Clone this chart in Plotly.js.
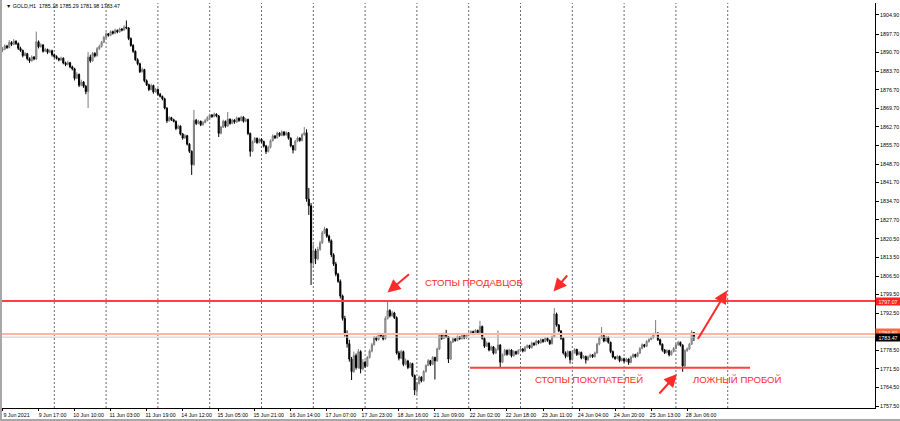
<!DOCTYPE html>
<html><head><meta charset="utf-8">
<script src="https://cdn.plot.ly/plotly-3.0.1.min.js"></script>
<style>html,body{margin:0;padding:0;background:#fff;}#chart{width:900px;height:421px;}</style>
</head><body><div id="chart"></div>
<script>
// Trading days shown (GOLD, H1, 23 bars a day from 01:00)
const days = ['9 Jun','10 Jun','11 Jun','14 Jun','15 Jun','16 Jun','17 Jun','18 Jun','21 Jun','22 Jun','23 Jun','24 Jun','25 Jun','28 Jun'];

const open = [
1891.5,1892.0,1893.2,1892.6,1894.5,1893.8,1895.0,1894.1,1892.3,1891.5,1889.6,1890.3,1888.4,1887.6,1889.0,1888.3,1894.8,1892.9,1893.6,1891.2,1891.9,1890.8,1891.4,
1889.9,1889.2,1888.5,1887.9,1888.6,1886.8,1886.2,1886.9,1885.3,1884.6,1881.0,1882.5,1878.4,1879.6,1878.0,1876.0,1889.0,1887.6,1890.4,1889.5,1892.2,1893.0,1894.6,
1896.4,1897.8,1897.2,1898.6,1898.0,1899.1,1898.5,1899.6,1899.2,1900.3,1900.0,1896.0,1893.4,1891.2,1888.0,1886.5,1883.5,1884.3,1880.1,1878.6,1876.8,1878.3,1875.9,
1876.8,1875.0,1874.2,1873.3,1869.8,1865.0,1866.2,1865.4,1864.8,1862.1,1863.0,1860.0,1858.5,1859.4,1856.2,1853.5,1848.5,1865.2,1864.0,1864.8,1863.5,1864.4,1865.1,
1866.2,1867.2,1866.6,1867.5,1866.8,1860.3,1862.6,1864.8,1863.0,1865.6,1864.0,1865.3,1864.5,1866.0,1865.1,1866.4,1864.8,1865.5,1860.2,1853.5,1857.0,1858.4,1856.8,
1858.0,1857.2,1855.5,1853.4,1855.0,1857.5,1859.3,1858.6,1860.4,1859.5,1860.8,1859.7,1860.5,1858.4,1855.6,1854.0,1857.3,1858.5,1857.6,1859.8,1860.5,1835.5,1833.0,
1811.5,1816.0,1813.0,1816.5,1819.0,1822.8,1824.2,1821.5,1819.8,1814.5,1811.0,1807.2,1804.5,1799.0,1790.5,1784.8,1781.0,1775.2,1770.5,1776.5,1772.0,1778.0,1771.5,
1774.0,1772.5,1775.8,1778.2,1780.6,1783.3,1782.5,1784.6,1783.8,1782.8,1790.5,1793.5,1791.5,1792.6,1790.8,1777.5,1775.5,1778.0,1773.2,1774.5,1772.0,1773.5,1769.0,
1763.5,1766.0,1768.4,1767.0,1770.5,1772.8,1774.6,1773.2,1775.8,1774.5,1779.0,1784.2,1783.0,1784.5,1783.6,1775.2,1781.6,1782.8,1782.2,1783.6,1782.9,1784.0,1783.2,
1784.3,1784.8,1785.6,1784.7,1786.0,1785.2,1787.5,1783.0,1780.0,1781.2,1778.6,1779.8,1777.4,1778.8,1780.5,1774.0,1776.8,1778.5,1777.0,1778.6,1776.4,1778.0,1777.2,
1778.4,1779.0,1778.2,1779.6,1780.3,1779.5,1781.2,1780.6,1782.0,1781.3,1782.5,1781.8,1783.0,1782.2,1781.0,1783.6,1792.2,1788.0,1785.8,1783.0,1777.5,1776.2,1778.0,
1775.0,1777.6,1778.8,1776.9,1777.7,1775.6,1776.2,1774.9,1776.0,1776.8,1776.1,1777.5,1780.8,1783.2,1784.0,1782.0,1783.4,1781.5,1778.0,1776.0,1775.4,1776.2,1774.6,
1775.3,1774.4,1775.2,1773.9,1776.0,1776.9,1776.2,1777.4,1779.2,1780.6,1780.0,1781.8,1782.6,1783.2,1784.6,1785.0,1782.5,1780.8,1778.6,1777.6,1778.4,1776.8,1778.0,
1779.2,1780.6,1781.5,1780.4,1772.6,1778.4,1779.0,1780.8,1785.18];

const high = [
1892.8,1893.8,1893.6,1895.4,1895.0,1895.8,1895.3,1894.5,1892.9,1891.9,1891.0,1890.6,1888.9,1889.6,1889.4,1898.6,1895.3,1894.2,1893.9,1892.5,1892.2,1891.9,1891.8,
1890.3,1889.7,1888.8,1889.2,1888.9,1887.3,1887.6,1887.2,1885.8,1885.0,1883.3,1882.8,1880.5,1880.0,1878.5,1891.0,1889.9,1891.0,1890.9,1892.8,1893.7,1895.1,1897.0,
1898.4,1898.1,1899.1,1899.0,1899.7,1899.4,1900.1,1900.0,1901.0,1902.8,1900.3,1896.4,1893.9,1891.5,1888.6,1886.9,1885.1,1884.6,1880.6,1879.0,1879.0,1878.6,1877.4,
1877.2,1875.5,1874.5,1873.7,1870.1,1866.8,1866.5,1865.8,1865.1,1863.6,1863.3,1860.4,1860.0,1859.7,1856.6,1853.8,1869.1,1865.7,1865.4,1865.1,1864.9,1865.7,1866.7,
1867.7,1867.5,1868.1,1867.8,1867.2,1863.1,1865.4,1865.1,1868.3,1865.9,1865.8,1865.6,1866.6,1866.3,1866.9,1866.7,1866.1,1865.8,1860.6,1857.6,1858.9,1858.7,1858.6,
1858.4,1857.5,1855.9,1855.6,1858.0,1859.9,1859.6,1860.9,1860.7,1861.4,1861.1,1861.0,1860.8,1858.8,1855.9,1857.8,1859.1,1858.8,1860.3,1862.6,1861.8,1839.7,1834.0,
1818.5,1816.8,1817.5,1819.8,1823.5,1825.0,1824.6,1822.1,1820.3,1815.1,1811.8,1807.7,1805.2,1799.5,1791.5,1786.0,1782.5,1776.0,1778.0,1777.3,1779.0,1778.5,1775.2,
1774.6,1776.3,1778.8,1781.3,1783.9,1783.7,1785.1,1784.9,1784.2,1791.3,1796.8,1794.0,1793.3,1793.0,1791.3,1778.3,1778.7,1778.4,1775.4,1774.9,1774.1,1773.8,1769.4,
1766.5,1769.0,1768.7,1771.0,1773.2,1775.2,1774.9,1776.3,1776.1,1779.5,1784.8,1784.6,1785.1,1786.2,1783.9,1782.1,1783.3,1783.1,1784.1,1783.9,1784.5,1784.3,1784.9,
1785.3,1786.0,1785.9,1786.5,1786.3,1789.6,1787.8,1783.4,1781.8,1781.5,1780.3,1780.1,1779.4,1786.0,1780.8,1777.3,1779.1,1778.8,1779.1,1778.9,1778.5,1778.3,1778.9,
1779.5,1779.3,1780.1,1780.7,1780.6,1781.7,1781.5,1782.5,1782.3,1783.0,1782.8,1783.5,1783.3,1782.6,1784.1,1794.4,1792.7,1788.4,1786.1,1783.4,1778.1,1778.5,1778.3,
1778.1,1779.3,1779.1,1778.2,1778.0,1776.7,1776.5,1776.5,1777.2,1777.1,1778.0,1781.3,1783.7,1787.3,1784.3,1783.9,1783.7,1781.8,1778.4,1776.3,1776.7,1776.5,1775.8,
1775.7,1775.7,1775.5,1776.5,1777.3,1777.2,1777.9,1779.7,1781.1,1780.9,1782.3,1783.0,1783.7,1785.1,1789.9,1785.3,1782.9,1781.1,1779.0,1778.9,1778.7,1778.5,1779.7,
1781.1,1782.0,1781.8,1780.8,1778.9,1779.6,1781.3,1786.0,1785.29];

const low = [
1890.9,1891.6,1892.1,1892.3,1893.2,1893.5,1893.6,1891.7,1891.0,1888.9,1889.3,1887.8,1886.8,1887.3,1887.8,1887.9,1892.3,1892.6,1890.7,1890.9,1890.2,1890.5,1889.2,
1888.6,1888.1,1887.4,1887.6,1886.3,1885.6,1885.9,1884.8,1884.0,1880.2,1880.7,1877.7,1878.0,1877.4,1875.0,1869.8,1886.9,1887.3,1888.9,1889.2,1891.7,1892.6,1894.3,
1896.0,1896.7,1896.9,1897.5,1897.7,1898.0,1898.2,1898.7,1898.9,1899.5,1895.4,1892.9,1890.6,1887.6,1885.9,1883.0,1883.2,1879.5,1878.1,1876.2,1876.5,1875.2,1875.6,
1874.5,1873.8,1872.7,1869.3,1864.2,1864.7,1864.9,1864.4,1861.5,1861.8,1859.5,1857.9,1858.2,1855.7,1852.9,1844.6,1848.0,1863.4,1863.7,1863.0,1863.2,1864.0,1864.8,
1865.8,1866.1,1866.3,1866.3,1858.9,1859.9,1862.3,1862.4,1862.7,1863.5,1863.7,1863.9,1864.2,1864.6,1864.8,1864.3,1864.5,1859.6,1851.5,1853.2,1856.6,1856.3,1856.5,
1856.7,1854.9,1852.5,1853.1,1854.6,1857.2,1858.1,1858.3,1859.0,1859.2,1859.2,1859.4,1857.9,1855.0,1852.7,1853.7,1856.9,1857.1,1857.3,1859.4,1834.5,1829.5,1803.1,
1809.5,1811.0,1812.4,1816.0,1818.6,1822.3,1820.9,1819.0,1813.6,1810.3,1806.4,1803.9,1798.0,1789.7,1783.6,1779.5,1774.2,1767.3,1770.0,1771.2,1771.6,1769.8,1770.9,
1771.8,1772.2,1775.4,1777.7,1780.3,1781.9,1782.2,1783.3,1782.2,1782.5,1790.1,1790.9,1791.2,1790.3,1776.9,1774.7,1775.2,1772.5,1772.8,1771.4,1771.7,1768.4,1761.6,
1762.0,1765.6,1766.4,1766.7,1770.1,1772.5,1772.6,1772.9,1767.5,1774.2,1778.6,1782.4,1782.7,1783.1,1773.7,1774.9,1781.2,1781.7,1781.9,1782.4,1782.6,1782.7,1782.9,
1783.9,1784.5,1784.2,1784.4,1784.7,1784.9,1782.5,1779.4,1779.7,1778.1,1778.3,1776.9,1777.1,1778.4,1772.2,1773.7,1776.4,1776.4,1776.7,1775.8,1776.1,1776.7,1776.9,
1777.9,1777.7,1777.9,1779.2,1779.0,1779.2,1780.1,1780.3,1780.8,1781.0,1781.3,1781.5,1781.7,1780.5,1780.7,1783.3,1787.4,1785.3,1782.4,1776.9,1775.5,1775.9,1773.5,
1774.6,1777.3,1776.4,1776.6,1775.1,1775.3,1773.5,1774.6,1775.6,1775.6,1775.8,1777.2,1780.4,1782.8,1781.5,1781.7,1781.0,1777.4,1775.5,1774.9,1775.1,1774.0,1774.3,
1773.9,1774.0,1773.0,1773.6,1775.6,1775.7,1775.9,1777.1,1778.9,1779.5,1779.7,1781.4,1782.3,1782.9,1784.2,1782.0,1780.3,1778.0,1777.1,1777.3,1776.2,1776.5,1777.7,
1778.8,1780.2,1779.9,1770.4,1772.2,1777.9,1778.6,1780.5,1781.98];

const close = [
1892.0,1893.2,1892.6,1894.5,1893.8,1895.0,1894.1,1892.3,1891.5,1889.6,1890.3,1888.4,1887.6,1889.0,1888.3,1894.8,1892.9,1893.6,1891.2,1891.9,1890.8,1891.4,1889.9,
1889.2,1888.5,1887.9,1888.6,1886.8,1886.2,1886.9,1885.3,1884.6,1881.0,1882.5,1878.4,1879.6,1878.0,1876.0,1889.0,1887.6,1890.4,1889.5,1892.2,1893.0,1894.6,1896.4,
1897.8,1897.2,1898.6,1898.0,1899.1,1898.5,1899.6,1899.2,1900.3,1900.0,1896.0,1893.4,1891.2,1888.0,1886.5,1883.5,1884.3,1880.1,1878.6,1876.8,1878.3,1875.9,1876.8,
1875.0,1874.2,1873.3,1869.8,1865.0,1866.2,1865.4,1864.8,1862.1,1863.0,1860.0,1858.5,1859.4,1856.2,1853.5,1848.5,1865.2,1864.0,1864.8,1863.5,1864.4,1865.1,1866.2,
1867.2,1866.6,1867.5,1866.8,1860.3,1862.6,1864.8,1863.0,1865.6,1864.0,1865.3,1864.5,1866.0,1865.1,1866.4,1864.8,1865.5,1860.2,1853.5,1857.0,1858.4,1856.8,1858.0,
1857.2,1855.5,1853.4,1855.0,1857.5,1859.3,1858.6,1860.4,1859.5,1860.8,1859.7,1860.5,1858.4,1855.6,1854.0,1857.3,1858.5,1857.6,1859.8,1860.5,1835.5,1833.0,1811.5,
1816.0,1813.0,1816.5,1819.0,1822.8,1824.2,1821.5,1819.8,1814.5,1811.0,1807.2,1804.5,1799.0,1790.5,1784.8,1781.0,1775.2,1770.5,1776.5,1772.0,1778.0,1771.5,1774.0,
1772.5,1775.8,1778.2,1780.6,1783.3,1782.5,1784.6,1783.8,1782.8,1790.5,1793.5,1791.5,1792.6,1790.8,1777.5,1775.5,1778.0,1773.2,1774.5,1772.0,1773.5,1769.0,1763.5,
1766.0,1768.4,1767.0,1770.5,1772.8,1774.6,1773.2,1775.8,1774.5,1779.0,1784.2,1783.0,1784.5,1783.6,1775.2,1781.6,1782.8,1782.2,1783.6,1782.9,1784.0,1783.2,1784.3,
1784.8,1785.6,1784.7,1786.0,1785.2,1787.5,1783.0,1780.0,1781.2,1778.6,1779.8,1777.4,1778.8,1780.5,1774.0,1776.8,1778.5,1777.0,1778.6,1776.4,1778.0,1777.2,1778.4,
1779.0,1778.2,1779.6,1780.3,1779.5,1781.2,1780.6,1782.0,1781.3,1782.5,1781.8,1783.0,1782.2,1781.0,1783.6,1792.2,1788.0,1785.8,1783.0,1777.5,1776.2,1778.0,1775.0,
1777.6,1778.8,1776.9,1777.7,1775.6,1776.2,1774.9,1776.0,1776.8,1776.1,1777.5,1780.8,1783.2,1784.0,1782.0,1783.4,1781.5,1778.0,1776.0,1775.4,1776.2,1774.6,1775.3,
1774.4,1775.2,1773.9,1776.0,1776.9,1776.2,1777.4,1779.2,1780.6,1780.0,1781.8,1782.6,1783.2,1784.6,1785.0,1782.5,1780.8,1778.6,1777.6,1778.4,1776.8,1778.0,1779.2,
1780.6,1781.5,1780.4,1772.6,1778.4,1779.0,1780.8,1785.18,1783.47];

const tickLabels = ['9 Jun 2021','9 Jun 17:00','10 Jun 10:00','11 Jun 03:00','11 Jun 19:00','14 Jun 12:00','15 Jun 05:00','15 Jun 21:00','16 Jun 14:00','17 Jun 07:00','17 Jun 23:00','18 Jun 16:00','21 Jun 09:00','22 Jun 02:00','22 Jun 18:00','23 Jun 11:00','24 Jun 04:00','24 Jun 20:00','25 Jun 13:00','28 Jun 06:00'];
const priceTicks = [1757.50,1764.50,1771.50,1778.50,1785.50,1792.50,1799.50,1806.50,1813.50,1820.50,1827.70,1834.70,1841.70,1848.70,1855.70,1862.70,1869.70,1876.70,1883.70,1890.70,1897.70,1904.90];

const symbolLine = '\u25BC GOLD,H1  1785.18 1785.29 1781.98 1783.47';
const sellStops = 1797.07;   // red level (sellers' stops)
const buyStops = 1771.9;     // red level (buyers' stops)
const askPrice = 1784.6;
const bidPrice = 1783.47;
const noteTexts = ['СТОПЫ ПРОДАВЦОВ', 'СТОПЫ ПОКУПАТЕЛЕЙ', 'ЛОЖНЫЙ ПРОБОЙ'];

// ---- build bar times ----
const times = [];
for (const d of days) {
  for (let h = 1; h <= 23 && times.length < close.length; h++) {
    times.push(d + ' ' + String(h).padStart(2, '0') + ':00');
  }
}
const xIdx = times.map((t, i) => i);
const tickVals = tickLabels.map((t, k) => k === 0 ? 0 : times.indexOf(t));

// day separators (dotted grid)
const dayStarts = [];
for (let i = 1; i < times.length; i++) {
  if (times[i].split(' ').slice(0, 2).join(' ') !== times[i - 1].split(' ').slice(0, 2).join(' ')) dayStarts.push(i);
}
dayStarts.push(dayStarts[dayStarts.length - 1] + 23); // next (future) day

// pixel helpers for the plot box
const PL = 2, PR = 875, PT = 3, PB = 408;
const fx = p => (p - PL) / (PR - PL);
const fy = p => (PB - p) / (PB - PT);

const RED = '#ff2a2a';
const FONT = 'Liberation Sans, Arial, sans-serif';

const trace = {
  type: 'candlestick',
  x: xIdx, open: open, high: high, low: low, close: close,
  increasing: {line: {color: '#7c7c7c', width: 1}, fillcolor: '#c4c4c4'},
  decreasing: {line: {color: '#000000', width: 1}, fillcolor: '#000000'},
  whiskerwidth: 0,
  showlegend: false,
  hoverinfo: 'skip'
};

const shapes = [];
dayStarts.forEach(i => shapes.push({
  type: 'line', xref: 'x', yref: 'paper', x0: i, x1: i, y0: 0, y1: 1,
  line: {color: '#6a6a6a', width: 1, dash: '2px,2px'}, layer: 'below'
}));
shapes.push({type: 'line', xref: 'paper', yref: 'y', x0: 0, x1: 1, y0: askPrice, y1: askPrice, line: {color: '#ffb6a6', width: 2}});
shapes.push({type: 'line', xref: 'paper', yref: 'y', x0: 0, x1: 1, y0: bidPrice, y1: bidPrice, line: {color: '#c8c8c8', width: 1}});
shapes.push({type: 'line', xref: 'paper', yref: 'y', x0: 0, x1: 1, y0: sellStops, y1: sellStops, line: {color: '#ff4040', width: 2}});
shapes.push({type: 'line', xref: 'x', yref: 'y', x0: 207.6, x1: 331.9, y0: buyStops, y1: buyStops, line: {color: '#ff4040', width: 2}});
// window frame
shapes.push({type: 'line', xref: 'paper', yref: 'paper', x0: fx(1), x1: fx(1), y0: fy(0), y1: fy(421), line: {color: '#a8a8a8', width: 2}});
shapes.push({type: 'line', xref: 'paper', yref: 'paper', x0: fx(0), x1: fx(900), y0: fy(420), y1: fy(420), line: {color: '#a8a8a8', width: 2}});

const arrow = (hx, hy, tx, ty) => ({
  xref: 'paper', yref: 'paper', x: fx(hx), y: fy(hy), ax: tx - hx, ay: ty - hy,
  axref: 'pixel', ayref: 'pixel', text: '', showarrow: true,
  arrowhead: 2, arrowsize: 1.3, arrowwidth: 2, arrowcolor: RED
});
const note = (txt, cx, cy) => ({
  xref: 'paper', yref: 'paper', x: fx(cx), y: fy(cy), xanchor: 'center', yanchor: 'middle',
  text: txt, showarrow: false, font: {family: FONT, size: 9.6, color: RED}
});
const tag = (val, bg, txt) => ({
  xref: 'paper', yref: 'y', x: fx(887.5), y: val, xanchor: 'center', yanchor: 'middle',
  text: txt, showarrow: false, bgcolor: bg, width: 22, height: 5, borderpad: 1,
  font: {family: FONT, size: 5.3, color: '#ffffff'}
});

const annotations = [
  {xref: 'paper', yref: 'paper', x: fx(4), y: fy(6), xanchor: 'left', yanchor: 'middle',
   text: symbolLine, showarrow: false, font: {family: FONT, size: 5.3, color: '#000'}},
  note(noteTexts[0], 474, 282.5),
  note(noteTexts[1], 589, 379),
  note(noteTexts[2], 737.5, 379),
  arrow(387.5, 292.5, 410.5, 273),
  arrow(553.5, 291.5, 568.5, 274),
  arrow(677, 374, 658, 395),
  arrow(727, 290.5, 697, 340.5),
  tag(askPrice + 0.6, '#ff6a3c', askPrice.toFixed(2)),
  tag(sellStops, '#ff2020', sellStops.toFixed(2)),
  tag(bidPrice, '#000000', bidPrice.toFixed(2))
];

const layout = {
  width: 900, height: 421,
  margin: {l: PL, r: 900 - PR, t: PT, b: 421 - PB, pad: 0},
  paper_bgcolor: '#ffffff', plot_bgcolor: '#ffffff',
  showlegend: false,
  xaxis: {
    type: 'linear', range: [-0.22, 387.4], rangeslider: {visible: false},
    showgrid: false, zeroline: false, showline: true, linecolor: '#000', linewidth: 1,
    tickvals: tickVals, ticktext: tickLabels, ticks: 'outside', ticklen: 2, tickcolor: '#000',
    ticklabelshift: 14, ticklabelstandoff: 0,
    tickfont: {family: FONT, size: 5.3, color: '#000'}, fixedrange: true
  },
  yaxis: {
    side: 'right', range: [1756.75, 1909.4],
    showgrid: false, zeroline: false, showline: true, linecolor: '#000', linewidth: 1,
    tickvals: priceTicks, ticktext: priceTicks.map(v => v.toFixed(2)),
    ticks: 'outside', ticklen: 3, tickcolor: '#000',
    tickfont: {family: FONT, size: 5.3, color: '#000'}, fixedrange: true
  },
  shapes: shapes,
  annotations: annotations
};

Plotly.newPlot('chart', [trace], layout, {staticPlot: true, displayModeBar: false});
</script>
</body></html>
